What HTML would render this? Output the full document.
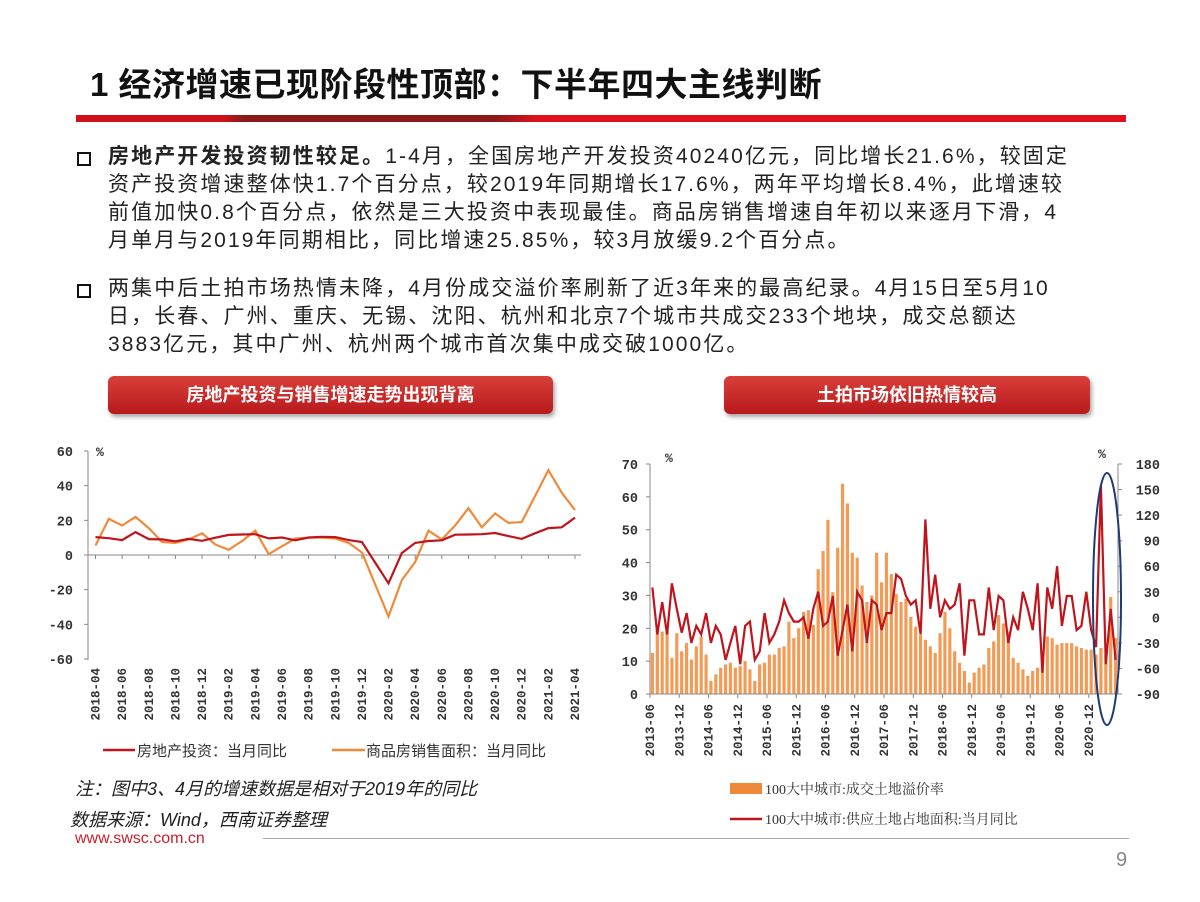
<!DOCTYPE html>
<html><head><meta charset="utf-8"><style>
body{margin:0;width:1200px;height:902px;position:relative;background:#fff;font-family:"Liberation Sans","Noto Sans CJK SC",sans-serif;overflow:hidden}
.abs{position:absolute;white-space:nowrap}
.title{left:90px;top:58px;font-size:33px;font-weight:bold;color:#111;letter-spacing:0.5px}
.p{left:108px;font-size:21px;color:#222;line-height:28px;letter-spacing:2.1px}
.bul{position:absolute;left:77px;width:10px;height:10px;border:2px solid #111}
.btn{position:absolute;height:38px;border-radius:6px;background:linear-gradient(#d9403a,#b8191c);color:#fff;font-weight:bold;font-size:18px;text-align:center;line-height:38px;box-shadow:2px 3px 4px rgba(0,0,0,.35)}
.note{font-style:italic;font-size:18px;color:#222}
</style></head><body>
<div class="abs title">1 经济增速已现阶段性顶部：下半年四大主线判断</div>
<div class="abs" style="left:76px;top:115px;width:1050px;height:7px;background:linear-gradient(90deg,#d0101a 0%,#d0101a 14%,#8a1a1a 16%,#8a1a1a 40%,#e0101c 44%,#e0101c 100%)"></div>
<div class="bul" style="top:152px"></div>
<div class="abs p" style="top:143px"><b>房地产开发投资韧性较足。</b>1-4月，全国房地产开发投资40240亿元，同比增长21.6%，较固定<br>资产投资增速整体快1.7个百分点，较2019年同期增长17.6%，两年平均增长8.4%，此增速较<br>前值加快0.8个百分点，依然是三大投资中表现最佳。商品房销售增速自年初以来逐月下滑，4<br>月单月与2019年同期相比，同比增速25.85%，较3月放缓9.2个百分点。</div>
<div class="bul" style="top:284px"></div>
<div class="abs p" style="top:275px">两集中后土拍市场热情未降，4月份成交溢价率刷新了近3年来的最高纪录。4月15日至5月10<br>日，长春、广州、重庆、无锡、沈阳、杭州和北京7个城市共成交233个地块，成交总额达<br>3883亿元，其中广州、杭州两个城市首次集中成交破1000亿。</div>
<div class="btn" style="left:108px;top:376px;width:445px">房地产投资与销售增速走势出现背离</div>
<div class="btn" style="left:724px;top:376px;width:366px">土拍市场依旧热情较高</div>
<div class="abs note" style="left:75px;top:775px">注：图中3、4月的增速数据是相对于2019年的同比</div>
<div class="abs note" style="left:70px;top:806px">数据来源：Wind，西南证券整理</div>
<div class="abs" style="left:75px;top:830px;font-size:16px;color:#c8202c">www.swsc.com.cn</div>
<div class="abs" style="left:263px;top:838px;width:866px;height:1px;background:#aaa"></div>
<div class="abs" style="left:1116px;top:849px;font-size:20px;color:#888">9</div>
<svg id="svg" width="1200" height="902" style="position:absolute;left:0;top:0" font-family="Liberation Mono, DejaVu Sans Mono, monospace">
</svg>
<script>
// Left chart data
const lMonths=[];for(let y=2018,m=4;;){lMonths.push(y+'-'+String(m).padStart(2,'0'));if(y===2021&&m===4)break;m++;if(m>12){m=1;y++;}}
const investYoY=[10.3,9.7,8.6,13.2,9.2,9,7.9,9.3,8.2,10,11.6,11.8,12,9.6,10.1,8.5,10.1,10.5,10.3,8.6,7.5,null,-16.3,1.1,7,8.1,8.5,11.7,11.8,12,12.7,10.9,9.3,12.5,15.5,16,21.6];
const salesYoY=[5.5,20.8,17,22,15.5,7.5,7,9,12.5,6,3,8,14,0.5,5,9.5,10,10,9.5,7,1.5,null,-35.5,-14.5,-4,14,9,17,27,16,24,18.5,19,34,49,36,25.9];
const lTicks=[60,40,20,0,-20,-40,-60];
// Right chart data
const rMonths=[];for(let y=2013,m=6;;){rMonths.push(y+'-'+String(m).padStart(2,'0'));if(y===2021&&m===5)break;m++;if(m>12){m=1;y++;}}
const premiumRate=[12.5,21,19,20,11,18.5,13,15.5,10.5,14.5,17.5,12,4,6,8,9,9.5,8,8.5,10,7.5,4,9,9.5,12,12,14,14.5,22,17,20,25,25.5,21,38,43.5,53,31,44.5,64,58,43,41.5,33,28,30,43,34,43,36.5,30.5,28,29,23.5,20.5,18,16.5,14.5,12.5,18.5,25,20,13,9.5,7,3.5,6.5,8,9,14,16,24,21.5,19,11,9.5,7.5,5.5,7,8,12,17.5,17,15,15.5,15.5,15.5,14.5,14,13.5,13.5,12,14,12,29.5,17];
const supplyYoY=[35,-20,18,-20,40,10,-18,5,-30,-10,-20,5,-30,-10,-20,-50,-30,-10,-55,-10,-5,-50,-40,5,-30,-20,-5,20,5,-5,-5,0,-25,10,30,-10,-5,25,-45,-15,15,-40,30,20,-30,20,15,-15,5,5,50,45,25,15,20,-20,115,10,50,0,20,10,15,40,-45,20,20,-20,-20,35,-15,25,20,-30,0,-15,30,10,-15,40,-65,35,10,60,-10,25,25,-15,-10,30,-15,-35,155,-55,10,-50];
const rLeftTicks=[0,10,20,30,40,50,60,70];
const rRightTicks=[-90,-60,-30,0,30,60,90,120,150,180];

const NS='http://www.w3.org/2000/svg',svg=document.getElementById('svg');
function mk(t,a,txt){const e=document.createElementNS(NS,t);for(const k in a)e.setAttribute(k,a[k]);if(txt!=null)e.textContent=txt;svg.appendChild(e);return e;}

// ---- Left chart ----
const LX0=95.5,LX1=575,LY=v=>555-v*(104/60);
const lx=i=>LX0+i*(LX1-LX0)/(lMonths.length-1);
let e=mk('line',{x1:88,y1:451,x2:88,y2:660,stroke:'#888'});

e=mk('line',{x1:88,y1:555,x2:581,y2:555,stroke:'#888'});

lTicks.forEach(v=>{const y=LY(v);
 e=mk('line',{x1:84,y1:y,x2:88,y2:y,stroke:'#888'});
 e=mk('text',{x:73,y:y+5,'font-size':13.5,'font-weight':'bold','text-anchor':'end',fill:'#333'},v);});
e=mk('text',{x:96,y:456,'font-size':13,'font-weight':'bold',fill:'#333'},'%');
lMonths.forEach((m,i)=>{if(i%2)return;const x=lx(i);
 e=mk('line',{x1:x,y1:555,x2:x,y2:559,stroke:'#888'});
 e=mk('text',{x:0,y:0,'font-size':12.5,'font-weight':'bold','text-anchor':'end',fill:'#333',transform:`translate(${x+4},668) rotate(-90)`},m);
 });
function linePath(arr,xf,yf){let d='',pen=false;arr.forEach((v,i)=>{if(v==null)return;d+=(pen?'L':'M')+xf(i).toFixed(1)+','+yf(v).toFixed(1);pen=true;});return d;}
e=mk('path',{d:linePath(salesYoY,i=>lx(i),LY),fill:'none',stroke:'#f08a3a','stroke-width':2.2});

e=mk('path',{d:linePath(investYoY,i=>lx(i),LY),fill:'none',stroke:'#c0141c','stroke-width':2.2});

e=mk('line',{x1:103,y1:750,x2:135,y2:750,stroke:'#c0141c','stroke-width':2.5});
e=mk('text',{x:137,y:756,'font-size':15,fill:'#333','font-family':'Noto Sans CJK SC, sans-serif'},'房地产投资：当月同比');
e=mk('line',{x1:332,y1:750,x2:365,y2:750,stroke:'#f08a3a','stroke-width':2.5});
e=mk('text',{x:366,y:756,'font-size':15,fill:'#333','font-family':'Noto Sans CJK SC, sans-serif'},'商品房销售面积：当月同比');

// ---- Right chart ----
const RX0=650,RX1=1118,RY0=694,RY1=464;
const slot=(RX1-RX0)/rMonths.length;
const rx=i=>RX0+(i+0.5)*slot;
const ryL=v=>RY0-v*(RY0-RY1)/70;
const ryR=v=>RY0-(v+90)*(RY0-RY1)/270;
premiumRate.forEach((v,i)=>{e=mk('rect',{x:rx(i)-1.6,y:ryL(v),width:3.2,height:RY0-ryL(v),fill:'#f39a55'});
 });
e=mk('line',{x1:RX0,y1:RY1,x2:RX0,y2:RY0,stroke:'#888'});
e=mk('line',{x1:RX1,y1:RY1,x2:RX1,y2:RY0,stroke:'#888'});
e=mk('line',{x1:RX0,y1:RY0,x2:RX1,y2:RY0,stroke:'#888'});
rLeftTicks.forEach(v=>{const y=ryL(v);
 e=mk('line',{x1:RX0-4,y1:y,x2:RX0,y2:y,stroke:'#888'});
 e=mk('text',{x:638,y:y+5,'font-size':13.5,'font-weight':'bold','text-anchor':'end',fill:'#333'},v);});
rRightTicks.forEach(v=>{const y=ryR(v);
 e=mk('line',{x1:RX1,y1:y,x2:RX1+4,y2:y,stroke:'#888'});
 e=mk('text',{x:1160,y:y+5,'font-size':13.5,'font-weight':'bold','text-anchor':'end',fill:'#333'},v);});
e=mk('text',{x:665,y:462,'font-size':13,'font-weight':'bold',fill:'#333'},'%');
e=mk('text',{x:1098,y:458,'font-size':13,'font-weight':'bold',fill:'#333'},'%');
rMonths.forEach((m,i)=>{if(i%6)return;const x=RX0+i*slot;
 e=mk('line',{x1:x,y1:RY0,x2:x,y2:RY0+4,stroke:'#888'});
 e=mk('text',{x:0,y:0,'font-size':12.5,'font-weight':'bold','text-anchor':'end',fill:'#333',transform:`translate(${x+4},704) rotate(-90)`},m);
 });
e=mk('path',{d:linePath(supplyYoY,rx,ryR),fill:'none',stroke:'#c0141c','stroke-width':2.2});

e=mk('ellipse',{cx:1107,cy:599,rx:14,ry:126,fill:'none',stroke:'#1f3a75','stroke-width':2});

e=mk('rect',{x:730,y:783,width:32,height:11,fill:'#f0883a'});
e=mk('text',{x:765,y:794,'font-size':14,fill:'#333','font-family':'Liberation Serif, Noto Serif CJK SC, serif'},'100大中城市:成交土地溢价率');
e=mk('line',{x1:730,y1:819,x2:762,y2:819,stroke:'#c0141c','stroke-width':2.5});
e=mk('text',{x:765,y:824,'font-size':14,fill:'#333','font-family':'Liberation Serif, Noto Serif CJK SC, serif'},'100大中城市:供应土地占地面积:当月同比');
</script>
</body></html>
